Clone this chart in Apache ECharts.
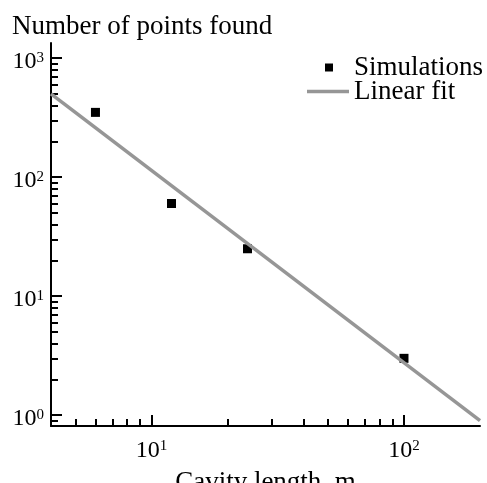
<!DOCTYPE html>
<html>
	<head>
		<meta charset="utf-8" />
		<title>Number of points found</title>
		<script src="https://cdn.jsdelivr.net/npm/echarts@6.0.0/dist/echarts.min.js"></script>
		<style>
			body { margin: 0; background: #fff; }
			#main { width: 487px; height: 483px; }
		</style>
	</head>
	<body>
		<div id="main"></div>
	<script>
	// data
	var simLength = [6, 12, 24, 100];
	var simPoints = [350, 60, 25, 3];
	var fitLength = [4, 200];
	var fitPoints = [500, 0.9];

	// tick positions
	var xMajorTicks = [10, 100];
	var xMinorTicks = [5, 6, 7, 8, 9, 20, 30, 40, 50, 60, 70, 80, 90];
	var yMajorTicks = [1, 10, 100, 1000];
	var yMinorTicks = [0.9, 2, 3, 4, 5, 6, 7, 8, 9, 20, 30, 40, 50, 60, 70, 80, 90,
		200, 300, 400, 500, 600, 700, 800, 900];

	var font = 'Liberation Serif';

	function pairs(xs, ys){
		var out = [];
		for (var i = 0; i < xs.length; i++) {
			out.push([xs[i], ys[i]]);
		}
		return out;
	}

	function powLabel(value){
		var e = Math.round(Math.log(value) / Math.LN10);
		return '{b|10}{s|' + e + '}';
	}

	var labelRich = {
		b: { fontFamily: font, fontSize: 24, lineHeight: 24, color: '#000' },
		s: { fontFamily: font, fontSize: 15, lineHeight: 15, color: '#000', verticalAlign: 'top' }
	};

	var chart = echarts.init(document.getElementById('main'));

	var option = {
		animation: false,
		title: {
			text: 'Number of points found',
			left: 12,
			top: 13,
			padding: 0,
			textStyle: { fontFamily: font, fontSize: 27, lineHeight: 27, fontWeight: 'normal', color: '#000' }
		},
		legend: [{
			data: ['Simulations'],
			left: 325,
			top: 54,
			padding: 0,
			itemWidth: 8,
			itemHeight: 8,
			icon: 'rect',
			itemStyle: { color: '#000', opacity: 1 },
			textStyle: { fontFamily: font, fontSize: 27, lineHeight: 26, color: '#000', padding: [0, 0, 0, 16] }
		}, {
			data: ['Linear fit'],
			left: 307,
			top: 78,
			padding: 0,
			itemWidth: 42,
			itemHeight: 3.5,
			icon: 'rect',
			itemStyle: { color: '#969696' },
			textStyle: { fontFamily: font, fontSize: 27, lineHeight: 26, color: '#000' }
		}],
		grid: {
			left: 51,
			right: 7,
			top: 43,
			bottom: 57,
			containLabel: false,
			outerBoundsMode: 'none'
		},
		xAxis: [{
			type: 'log',
			min: 4,
			max: 200,
			position: 'bottom',
			name: 'Cavity length, m',
			nameLocation: 'middle',
			nameGap: 43,
			nameTextStyle: { fontFamily: font, fontSize: 27, lineHeight: 27, color: '#000' },
			axisLine: { lineStyle: { color: '#000', width: 2 } },
			axisTick: { inside: true, length: 11, customValues: xMajorTicks, lineStyle: { color: '#000', width: 2 } },
			axisLabel: { margin: 13, customValues: xMajorTicks, formatter: powLabel, rich: labelRich },
			splitLine: { show: false }
		}, {
			type: 'log',
			min: 4,
			max: 200,
			position: 'bottom',
			axisLine: { show: false },
			axisTick: { inside: true, length: 7, customValues: xMinorTicks, lineStyle: { color: '#000', width: 2 } },
			axisLabel: { show: false },
			splitLine: { show: false }
		}],
		yAxis: [{
			type: 'log',
			min: 0.81,
			max: 1340,
			position: 'left',
			axisLine: { lineStyle: { color: '#000', width: 2 } },
			axisTick: { inside: true, length: 11, customValues: yMajorTicks, lineStyle: { color: '#000', width: 2 } },
			axisLabel: { margin: 7, padding: [8, 0, 0, 0], customValues: yMajorTicks, formatter: powLabel, rich: labelRich },
			splitLine: { show: false }
		}, {
			type: 'log',
			min: 0.81,
			max: 1340,
			position: 'left',
			axisLine: { show: false },
			axisTick: { inside: true, length: 7, customValues: yMinorTicks, lineStyle: { color: '#000', width: 2 } },
			axisLabel: { show: false },
			splitLine: { show: false }
		}],
		series: [{
			name: 'Simulations',
			type: 'scatter',
			xAxisIndex: 0,
			yAxisIndex: 0,
			symbol: 'rect',
			symbolSize: 9,
			itemStyle: { color: '#000', opacity: 1 },
			data: pairs(simLength, simPoints)
		}, {
			name: 'Linear fit',
			type: 'line',
			xAxisIndex: 0,
			yAxisIndex: 0,
			symbol: 'none',
			lineStyle: { color: '#969696', width: 3.5 },
			itemStyle: { color: '#969696' },
			data: pairs(fitLength, fitPoints)
		}]
	};

	chart.setOption(option);
	</script>
	</body>
</html>
